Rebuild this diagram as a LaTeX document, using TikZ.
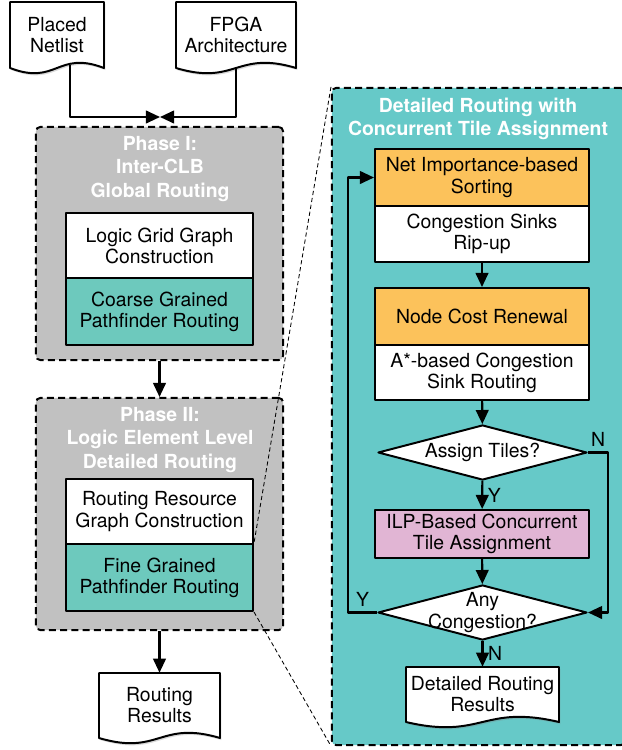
\documentclass[tikz,border=0pt]{standalone}
\usepackage{fontspec}
\setmainfont{TeX Gyre Heros}
\usetikzlibrary{positioning,shapes.geometric,arrows.meta,shadows}

\definecolor{phasegray}{RGB}{193,193,193}
\definecolor{tealbox}{RGB}{109,201,189}
\definecolor{tealpanel}{RGB}{102,201,200}
\definecolor{orangebox}{RGB}{252,194,91}
\definecolor{pinkbox}{RGB}{225,181,212}

% document symbol: name, centre x, centre y, width, height (px), text
\newcommand{\docnode}[6]{%
  \draw[docline] (#2-#4/2,#3-#5/2) -- (#2+#4/2,#3-#5/2) -- (#2+#4/2,#3+#5/2)
    .. controls (#2,#3+#5/2-18) and (#2,#3+#5/2+18) .. (#2-#4/2,#3+#5/2) -- cycle;
  \node (#1) at (#2,#3) [minimum width=#4*0.025cm, minimum height=#5*0.025cm] {#6};}

\tikzset{
  every node/.style={font=\fontsize{13.8}{15}\selectfont, align=center},
  phase/.style={draw, line width=1.4pt, dash pattern=on 5pt off 3pt, fill=phasegray,
    rounded corners=3pt, minimum width=6.175cm},
  title/.style={text=white, font=\bfseries\fontsize{13.8}{16.4}\selectfont},
  stage/.style={draw, line width=1.4pt, fill=white, minimum width=4.675cm, inner sep=1pt},
  stepbox/.style={stage, minimum width=5.35cm},
  decision/.style={diamond, draw, line width=1.4pt, fill=white, inner sep=0pt,
    minimum width=5.225cm, minimum height=1.375cm},
  docline/.style={draw, fill=white, line width=1.4pt,
    drop shadow={shadow xshift=1pt, shadow yshift=-1.5pt, opacity=0.3}},
  flow/.style={-{Triangle[length=10pt,width=9pt]}, line width=1.5pt},
  guide/.style={line width=0.6pt, dash pattern=on 3pt off 2pt}
}

\begin{document}
\begin{tikzpicture}[x=0.025cm, y=-0.025cm, line join=round]
        \useasboundingbox (0,0) rectangle (621,750);

        % phase frames
        \node (ph1) at (159.5,243.5) [phase, minimum height=5.825cm] {};
        \node (ph2) at (159.5,514) [phase, minimum height=5.8cm] {};
        \node (panel) at (478.5,416.5) [phase, fill=tealpanel, minimum width=7.325cm, minimum height=16.425cm] {};

        % titles
        \node (t1) at (160,169) [title] {Phase I:\\Inter-CLB\\Global Routing};
        \node (t2) at (160,440) [title] {Phase II:\\Logic Element Level\\Detailed Routing};
        \node (t3) at (478,119) [title] {Detailed Routing with\\Concurrent Tile Assignment};

        % inputs and outputs
        \docnode{pn}{57}{35}{94}{66}{Placed\\Netlist}
        \docnode{fa}{236}{35}{120}{66}{FPGA\\Architecture}
        \docnode{rr}{159.5}{705.5}{121}{65}{Routing\\Results}
        \docnode{dr}{482.5}{694.5}{153}{55}{Detailed Routing\\Results}

        % phase steps
        \node (lg) at (159.5,245.5) [stage, minimum height=1.625cm] {Logic Grid Graph\\Construction};
        \node (cg) at (159.5,311.5) [stage, fill=tealbox, minimum height=1.675cm] {Coarse Grained\\Pathfinder Routing};
        \node (rg) at (159.5,511.5) [stage, minimum height=1.625cm] {Routing Resource\\Graph Construction};
        \node (fg) at (159.5,577.5) [stage, fill=tealbox, minimum height=1.675cm] {Fine Grained\\Pathfinder Routing};

        % detailed routing steps
        \node (ns) at (482,177.5) [stepbox, fill=orangebox, minimum height=1.425cm] {Net Importance-based\\Sorting};
        \node (cs) at (482,234) [stepbox, minimum height=1.4cm] {Congestion Sinks\\Rip-up};
        \node (nc) at (482,316.5) [stepbox, fill=orangebox, minimum height=1.425cm] {Node Cost Renewal};
        \node (as) at (482,372.5) [stepbox, minimum height=1.375cm] {A*-based Congestion\\Sink Routing};
        \node (at) at (482.5,452.5) [decision, label={center:Assign Tiles?}] {};
        \node (ilp) at (482,534) [stepbox, fill=pinkbox, minimum height=1.2cm] {ILP-Based Concurrent\\Tile Assignment};
        \node (ac) at (482.5,612.5) [decision, label={center:Any\\Congestion?}] {};

        % connections
        \coordinate (join) at (160,117);
        \coordinate (pnout) at (70,65);
        \draw[flow] (pnout) |- (join);
        \draw[flow] (fa.south) |- (join);
        \draw[flow] (ph1) -- (ph2);
        \draw[flow] (ph2) -- (rr);
        \draw[flow] (cs) -- (nc);
        \draw[flow] (as) -- (at);
        \draw[flow] (at) -- node[right] {Y} (ilp);
        \draw[flow] (ilp) -- (ac);
        \draw[flow] (ac) -- node[right] {N} (dr);
        \draw[flow] (at.east) -- node[above] {N} ++(20,0) |- (ac.east);
        \draw[flow] (ac.west) -- node[above] {Y} ++(-29,0) |- (ns.west);

        % zoom guides
        \draw[guide] (panel.north west) -- (fg.north east);
        \draw[guide] (fg.south east) -- (panel.south west);
    \end{tikzpicture}
\end{document}
